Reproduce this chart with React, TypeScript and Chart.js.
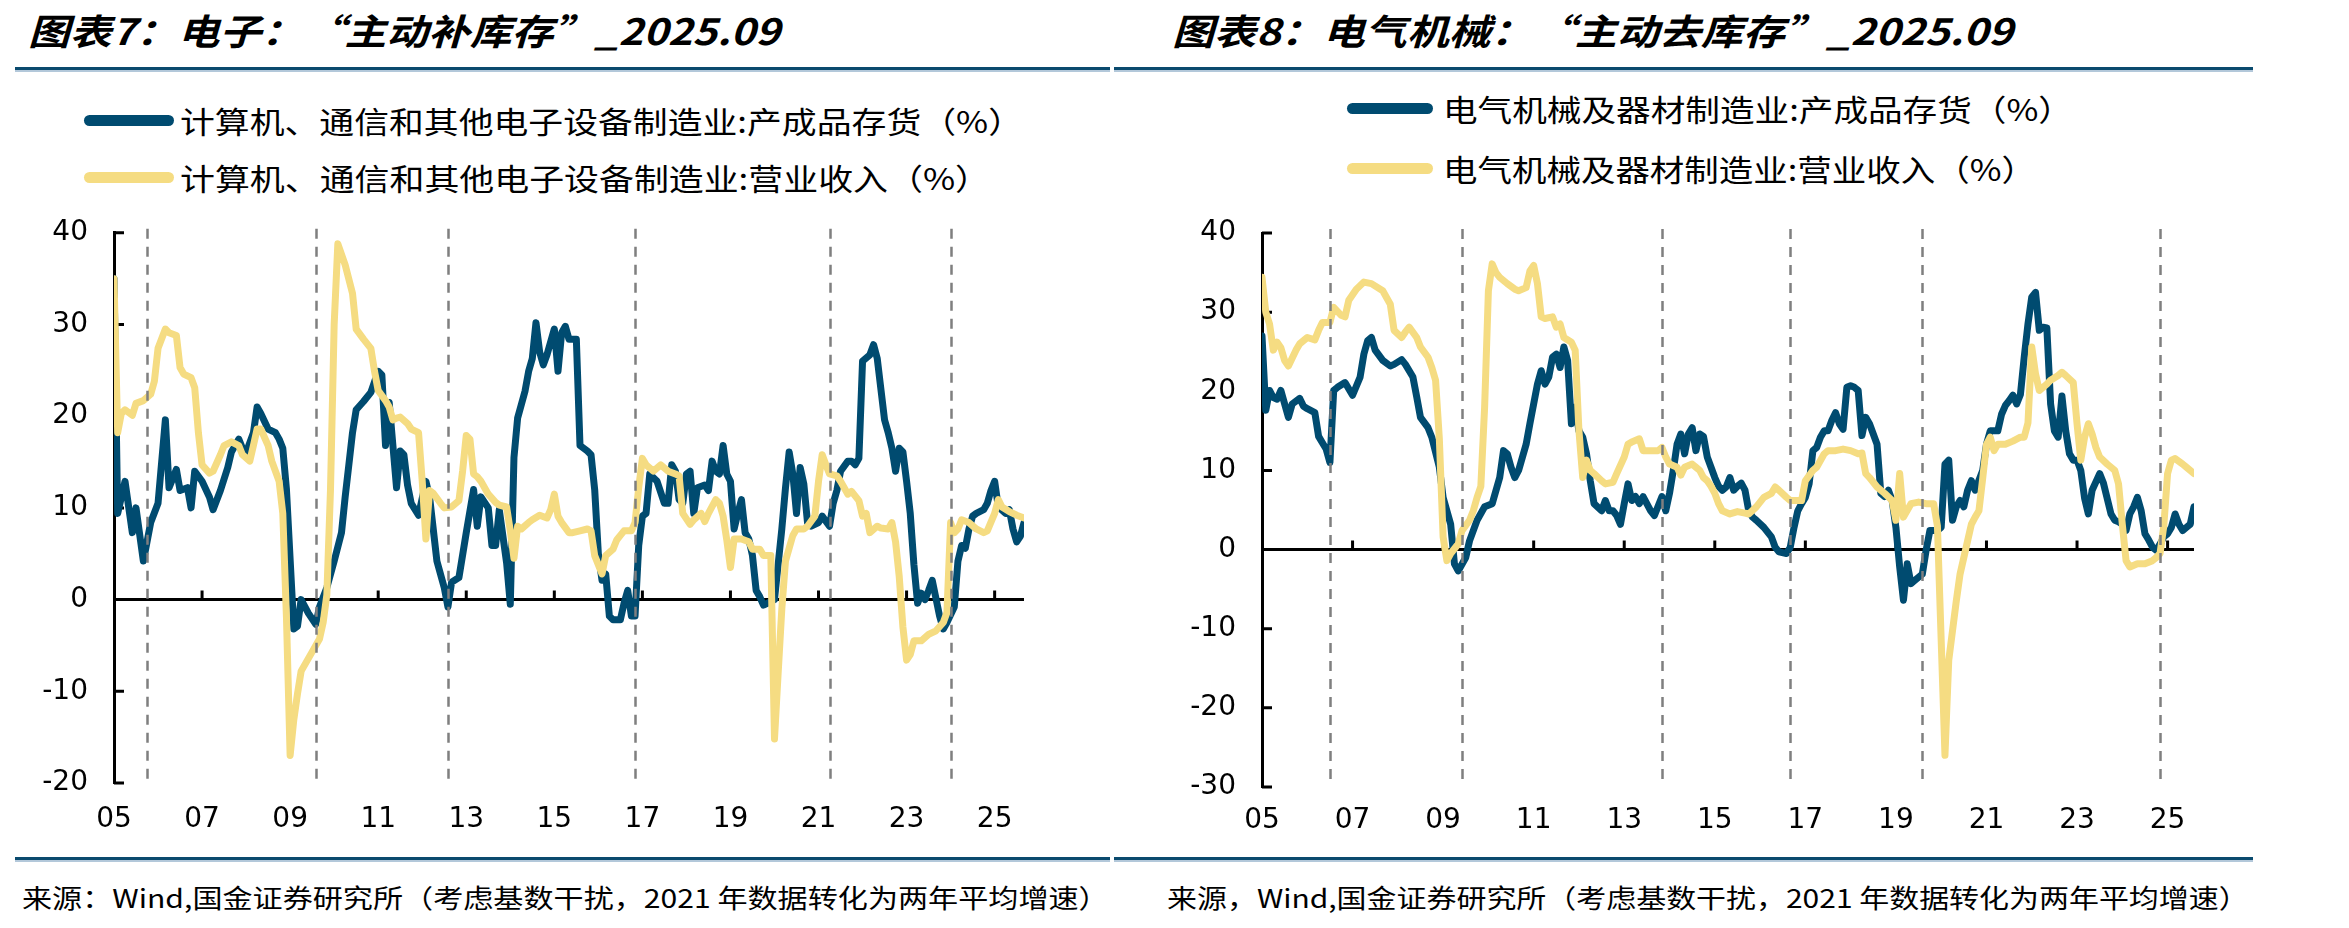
import React, { useEffect, useLayoutEffect, useRef, useState } from "react";
import { Chart, registerables } from "chart.js";

Chart.register(...registerables);

// ---------- data ----------
// Computer, communication & other electronic equipment manufacturing (% y/y)
const elecInventory: [string, number][] = [
  ["2005-01", 35.0], ["2005-02", 9.4], ["2005-04", 12.9], ["2005-05", 10.1], ["2005-06", 7.3], ["2005-07", 10.0], ["2005-09", 4.2], ["2005-11", 8.4],
  ["2006-01", 10.5], ["2006-03", 19.6], ["2006-04", 12.2], ["2006-06", 14.2], ["2006-07", 11.9], ["2006-09", 12.2], ["2006-10", 10.0], ["2006-11", 14.0],
  ["2007-01", 12.9], ["2007-03", 11.2], ["2007-04", 9.8], ["2007-06", 11.9], ["2007-08", 14.4], ["2007-09", 16.1], ["2007-11", 17.5], ["2007-12", 16.5],
  ["2008-01", 16.0], ["2008-03", 18.2], ["2008-04", 21.0], ["2008-05", 20.3], ["2008-07", 18.6], ["2008-09", 18.2], ["2008-10", 17.5], ["2008-11", 16.5], ["2008-12", 12.0],
  ["2009-02", -3.2], ["2009-03", -2.9], ["2009-04", 0.0], ["2009-06", -1.5], ["2009-08", -2.7], ["2009-09", -0.8], ["2009-11", 1.3],
  ["2010-01", 4.2], ["2010-03", 7.3], ["2010-04", 11.2], ["2010-05", 14.7], ["2010-06", 18.2], ["2010-07", 20.7], ["2010-09", 21.6], ["2010-11", 22.6],
  ["2011-01", 24.9], ["2011-02", 24.5], ["2011-03", 16.8], ["2011-04", 21.5], ["2011-06", 12.2], ["2011-07", 16.2], ["2011-08", 15.8], ["2011-09", 12.5], ["2011-10", 10.5], ["2011-12", 9.2],
  ["2012-02", 12.9], ["2012-03", 11.2], ["2012-04", 7.7], ["2012-05", 4.2], ["2012-07", 1.3], ["2012-08", -0.8], ["2012-09", 1.9], ["2012-11", 2.4],
  ["2013-01", 7.3], ["2013-03", 12.0], ["2013-04", 8.0], ["2013-05", 11.2], ["2013-07", 10.0], ["2013-08", 5.9], ["2013-09", 5.9], ["2013-10", 9.8], ["2013-12", 4.0],
  ["2014-01", -0.5], ["2014-02", 15.5], ["2014-03", 19.8], ["2014-05", 22.7], ["2014-06", 24.9], ["2014-07", 26.3], ["2014-08", 30.2], ["2014-09", 27.0], ["2014-10", 25.6], ["2014-11", 26.7],
  ["2015-01", 29.5], ["2015-02", 24.9], ["2015-03", 29.1], ["2015-04", 29.8], ["2015-05", 28.4], ["2015-07", 28.4], ["2015-08", 16.8], ["2015-10", 16.2], ["2015-11", 15.8], ["2015-12", 12.0],
  ["2016-01", 5.0], ["2016-02", 2.1], ["2016-03", 2.8], ["2016-04", -1.8], ["2016-05", -2.2], ["2016-07", -2.2], ["2016-08", -0.4], ["2016-09", 1.0], ["2016-10", -1.8], ["2016-11", -1.8], ["2016-12", 5.9],
  ["2017-01", 9.1], ["2017-02", 9.4], ["2017-03", 13.7], ["2017-04", 13.3], ["2017-05", 12.9], ["2017-07", 10.5], ["2017-08", 10.5], ["2017-09", 14.7], ["2017-10", 14.0], ["2017-11", 10.9], ["2017-12", 10.5],
  ["2018-01", 13.7], ["2018-02", 14.0], ["2018-03", 9.4], ["2018-04", 12.2], ["2018-06", 12.5], ["2018-07", 11.9], ["2018-08", 15.1], ["2018-09", 14.0], ["2018-10", 13.7], ["2018-11", 16.8], ["2018-12", 13.7],
  ["2019-01", 12.9], ["2019-02", 7.7], ["2019-03", 9.4], ["2019-04", 10.9], ["2019-05", 7.3], ["2019-06", 6.6], ["2019-07", 4.8], ["2019-08", 1.0], ["2019-09", 0.3], ["2019-10", -0.6], ["2019-11", -0.4],
  ["2020-01", 0.0], ["2020-03", 7.7], ["2020-04", 12.2], ["2020-05", 16.1], ["2020-06", 13.7], ["2020-07", 9.4], ["2020-08", 14.4], ["2020-09", 12.6], ["2020-10", 8.4], ["2020-11", 8.0],
  ["2021-01", 8.4], ["2021-02", 9.1], ["2021-04", 8.0], ["2021-05", 10.5], ["2021-06", 11.9], ["2021-07", 14.0], ["2021-09", 15.1], ["2021-10", 15.1], ["2021-11", 14.7], ["2021-12", 15.4],
  ["2022-01", 26.0], ["2022-03", 26.7], ["2022-04", 27.8], ["2022-05", 26.3], ["2022-07", 19.6], ["2022-08", 18.2], ["2022-09", 16.5], ["2022-10", 14.0], ["2022-11", 16.5], ["2022-12", 16.1],
  ["2023-01", 12.9], ["2023-02", 9.4], ["2023-03", 3.8], ["2023-04", -0.4], ["2023-05", 0.7], ["2023-06", 0.0], ["2023-07", 1.0], ["2023-08", 2.1], ["2023-10", -1.8], ["2023-11", -3.2], ["2023-12", -2.5],
  ["2024-02", -0.8], ["2024-03", 4.2], ["2024-04", 5.9], ["2024-05", 5.6], ["2024-06", 7.7], ["2024-07", 9.1], ["2024-08", 9.4], ["2024-10", 9.8], ["2024-11", 10.5], ["2024-12", 11.9],
  ["2025-01", 12.9], ["2025-02", 10.1], ["2025-04", 9.4], ["2025-05", 9.8], ["2025-06", 7.7], ["2025-07", 6.3], ["2025-08", 6.9], ["2025-09", 8.4],
];

const elecRevenue: [string, number][] = [
  ["2005-01", 35.0], ["2005-02", 18.2], ["2005-03", 20.3], ["2005-04", 20.7], ["2005-06", 20.1], ["2005-07", 21.4], ["2005-09", 21.7], ["2005-11", 22.4], ["2005-12", 23.8],
  ["2006-01", 27.4], ["2006-03", 29.5], ["2006-04", 29.1], ["2006-06", 28.8], ["2006-07", 25.3], ["2006-08", 24.6], ["2006-10", 24.2], ["2006-11", 23.1], ["2006-12", 18.2],
  ["2007-01", 14.7], ["2007-03", 13.8], ["2007-04", 14.0], ["2007-06", 15.8], ["2007-07", 16.8], ["2007-09", 17.2], ["2007-11", 16.8], ["2007-12", 15.8],
  ["2008-02", 15.1], ["2008-03", 16.8], ["2008-04", 18.6], ["2008-05", 18.6], ["2008-07", 16.8], ["2008-08", 15.1], ["2008-10", 12.9], ["2008-11", 9.4], ["2008-12", -2.0],
  ["2009-01", -17.0], ["2009-02", -13.1], ["2009-03", -10.3], ["2009-04", -7.8], ["2009-07", -5.7], ["2009-09", -4.3], ["2009-10", -2.5], ["2009-11", 0.5], ["2009-12", 12.0],
  ["2010-01", 30.0], ["2010-02", 38.8], ["2010-04", 36.5], ["2010-06", 33.4], ["2010-07", 29.5], ["2010-09", 28.4], ["2010-11", 27.4], ["2010-12", 24.9],
  ["2011-01", 22.8], ["2011-03", 21.7], ["2011-04", 21.0], ["2011-05", 19.6], ["2011-06", 19.8], ["2011-07", 19.9], ["2011-09", 19.2], ["2011-10", 18.6], ["2011-12", 18.2],
  ["2012-01", 12.9], ["2012-02", 6.6], ["2012-03", 11.9], ["2012-04", 11.6], ["2012-06", 10.5], ["2012-07", 10.0], ["2012-09", 10.1], ["2012-11", 10.8], ["2012-12", 14.0],
  ["2013-01", 17.9], ["2013-02", 17.5], ["2013-03", 13.7], ["2013-04", 13.4], ["2013-05", 12.9], ["2013-07", 11.5], ["2013-09", 10.6], ["2013-10", 10.3], ["2013-12", 10.1],
  ["2014-01", 7.5], ["2014-02", 4.5], ["2014-03", 8.0], ["2014-04", 7.7], ["2014-06", 8.4], ["2014-07", 8.7], ["2014-09", 9.2], ["2014-11", 8.9], ["2014-12", 9.8],
  ["2015-01", 11.5], ["2015-02", 9.1], ["2015-03", 8.4], ["2015-05", 7.3], ["2015-06", 7.3], ["2015-08", 7.5], ["2015-10", 7.7], ["2015-11", 7.5], ["2015-12", 4.8],
  ["2016-02", 2.8], ["2016-03", 4.8], ["2016-05", 5.5], ["2016-06", 6.5], ["2016-07", 7.0], ["2016-08", 7.5], ["2016-10", 7.5], ["2016-11", 8.4], ["2016-12", 12.2],
  ["2017-01", 15.4], ["2017-02", 14.7], ["2017-04", 14.0], ["2017-06", 14.7], ["2017-08", 14.0], ["2017-10", 13.7], ["2017-11", 13.5], ["2017-12", 9.4],
  ["2018-02", 8.2], ["2018-03", 8.7], ["2018-05", 9.4], ["2018-06", 8.5], ["2018-07", 9.4], ["2018-09", 10.9], ["2018-10", 10.5], ["2018-11", 9.1], ["2018-12", 6.5],
  ["2019-01", 3.5], ["2019-02", 6.6], ["2019-04", 6.6], ["2019-06", 6.3], ["2019-07", 5.5], ["2019-09", 5.5], ["2019-10", 4.8], ["2019-12", 4.8],
  ["2020-01", -15.2], ["2020-02", -8.0], ["2020-03", -1.0], ["2020-04", 4.2], ["2020-06", 7.0], ["2020-07", 7.7], ["2020-09", 7.7], ["2020-10", 8.0], ["2020-12", 9.1],
  ["2021-01", 12.9], ["2021-02", 15.8], ["2021-03", 14.7], ["2021-04", 13.7], ["2021-06", 13.5], ["2021-07", 12.9], ["2021-08", 12.2], ["2021-09", 11.5], ["2021-10", 11.8], ["2021-12", 10.8],
  ["2022-01", 9.1], ["2022-02", 9.4], ["2022-03", 7.3], ["2022-05", 8.0], ["2022-06", 7.8], ["2022-08", 7.7], ["2022-09", 8.4], ["2022-10", 6.3], ["2022-11", 2.5], ["2022-12", -3.0],
  ["2023-01", -6.6], ["2023-02", -6.0], ["2023-03", -4.5], ["2023-05", -4.5], ["2023-07", -3.8], ["2023-09", -3.4], ["2023-11", -2.5], ["2023-12", -1.4],
  ["2024-01", 8.4], ["2024-02", 7.3], ["2024-03", 7.7], ["2024-04", 8.7], ["2024-06", 8.4], ["2024-08", 7.7], ["2024-10", 7.3], ["2024-11", 7.5],
  ["2025-01", 9.4], ["2025-02", 10.9], ["2025-03", 10.1], ["2025-05", 9.6], ["2025-07", 9.2], ["2025-09", 8.9],
];

// Electrical machinery & equipment manufacturing (% y/y)
const machInventory: [string, number][] = [
  ["2005-01", 27.0], ["2005-02", 17.6], ["2005-03", 20.1], ["2005-04", 19.2], ["2005-05", 19.0], ["2005-06", 20.1], ["2005-08", 16.7], ["2005-09", 18.4], ["2005-11", 19.1], ["2005-12", 18.1],
  ["2006-01", 17.8], ["2006-03", 17.3], ["2006-04", 14.3], ["2006-05", 13.5], ["2006-06", 12.7], ["2006-07", 11.0], ["2006-08", 20.1], ["2006-09", 20.5], ["2006-11", 21.1],
  ["2007-01", 19.5], ["2007-03", 21.8], ["2007-04", 24.7], ["2007-05", 26.4], ["2007-06", 26.8], ["2007-07", 25.2], ["2007-09", 23.9], ["2007-11", 23.2], ["2007-12", 23.4],
  ["2008-02", 24.0], ["2008-03", 23.4], ["2008-05", 21.8], ["2008-06", 19.3], ["2008-07", 16.7], ["2008-09", 15.4], ["2008-10", 14.2], ["2008-12", 10.4],
  ["2009-01", 6.6], ["2009-03", 3.2], ["2009-04", -1.8], ["2009-05", -2.7], ["2009-07", -1.0], ["2009-08", 1.1], ["2009-10", 3.7], ["2009-12", 5.4],
  ["2010-02", 5.8], ["2010-04", 9.1], ["2010-05", 12.5], ["2010-06", 12.1], ["2010-07", 10.4], ["2010-08", 9.1], ["2010-09", 10.0], ["2010-11", 13.3], ["2010-12", 15.9],
  ["2011-02", 20.9], ["2011-03", 22.6], ["2011-04", 20.9], ["2011-05", 21.8], ["2011-06", 24.3], ["2011-07", 24.7], ["2011-08", 23.0], ["2011-09", 25.6], ["2011-10", 23.9], ["2011-11", 15.9], ["2011-12", 18.0],
  ["2012-01", 15.0], ["2012-02", 14.2], ["2012-03", 12.1], ["2012-04", 8.7], ["2012-05", 5.8], ["2012-07", 4.9], ["2012-08", 6.2], ["2012-09", 4.9], ["2012-10", 4.9], ["2012-11", 4.3], ["2012-12", 3.2],
  ["2013-01", 5.8], ["2013-02", 8.3], ["2013-03", 6.2], ["2013-04", 6.7], ["2013-05", 5.8], ["2013-06", 6.7], ["2013-08", 4.9], ["2013-09", 4.3], ["2013-10", 5.5], ["2013-11", 6.7], ["2013-12", 4.9],
  ["2014-01", 7.1], ["2014-02", 10.0], ["2014-03", 13.3], ["2014-04", 14.6], ["2014-05", 12.1], ["2014-06", 14.6], ["2014-07", 15.4], ["2014-08", 12.5], ["2014-09", 14.6], ["2014-10", 14.3], ["2014-11", 11.7], ["2014-12", 10.4],
  ["2015-01", 9.1], ["2015-02", 8.0], ["2015-03", 7.5], ["2015-04", 7.9], ["2015-05", 9.1], ["2015-06", 7.5], ["2015-07", 8.0], ["2015-08", 8.4], ["2015-09", 7.5], ["2015-10", 4.9], ["2015-11", 4.1], ["2015-12", 3.7],
  ["2016-02", 2.8], ["2016-04", 1.6], ["2016-05", 0.3], ["2016-06", -0.3], ["2016-08", -0.5], ["2016-09", 0.3], ["2016-10", 2.8], ["2016-11", 4.9], ["2016-12", 5.8],
  ["2017-01", 6.6], ["2017-02", 8.3], ["2017-03", 12.5], ["2017-04", 12.9], ["2017-05", 14.2], ["2017-06", 15.0], ["2017-07", 15.0], ["2017-08", 16.3], ["2017-09", 17.3], ["2017-10", 15.9], ["2017-11", 15.2], ["2017-12", 20.5],
  ["2018-01", 20.7], ["2018-02", 20.5], ["2018-03", 20.1], ["2018-04", 14.4], ["2018-05", 16.7], ["2018-06", 15.9], ["2018-07", 14.6], ["2018-08", 13.3], ["2018-09", 7.1], ["2018-10", 6.7], ["2018-11", 7.5], ["2018-12", 6.2],
  ["2019-01", 2.8], ["2019-02", -2.2], ["2019-03", -6.4], ["2019-04", -1.8], ["2019-05", -4.3], ["2019-06", -3.9], ["2019-08", -3.1], ["2019-09", -0.1], ["2019-10", 2.4], ["2019-12", 2.4],
  ["2020-01", 2.8], ["2020-02", 10.8], ["2020-03", 11.3], ["2020-04", 3.7], ["2020-05", 5.4], ["2020-06", 6.2], ["2020-07", 5.4], ["2020-08", 7.5], ["2020-09", 8.7], ["2020-10", 7.5], ["2020-12", 10.0],
  ["2021-01", 13.3], ["2021-02", 15.0], ["2021-04", 15.0], ["2021-05", 17.1], ["2021-06", 18.2], ["2021-07", 18.8], ["2021-08", 19.5], ["2021-09", 18.4], ["2021-10", 19.6], ["2021-11", 24.3], ["2021-12", 28.5],
  ["2022-01", 31.9], ["2022-02", 32.5], ["2022-03", 27.7], ["2022-04", 28.1], ["2022-05", 28.0], ["2022-06", 18.4], ["2022-07", 15.0], ["2022-08", 14.2], ["2022-09", 19.4], ["2022-10", 15.0], ["2022-11", 12.1], ["2022-12", 11.3],
  ["2023-01", 11.3], ["2023-02", 10.0], ["2023-03", 6.5], ["2023-04", 4.5], ["2023-05", 7.5], ["2023-07", 9.6], ["2023-08", 8.4], ["2023-10", 4.5], ["2023-11", 3.7], ["2023-12", 3.5],
  ["2024-01", 3.2], ["2024-02", 2.4], ["2024-03", 4.5], ["2024-04", 5.4], ["2024-05", 6.6], ["2024-06", 4.9], ["2024-07", 2.0], ["2024-08", 1.2], ["2024-09", 0.3], ["2024-10", -0.1], ["2024-11", 0.7], ["2024-12", 1.6],
  ["2025-01", 2.0], ["2025-02", 2.8], ["2025-03", 4.5], ["2025-04", 3.2], ["2025-05", 2.4], ["2025-06", 2.8], ["2025-07", 3.2], ["2025-08", 5.4],
];

const machRevenue: [string, number][] = [
  ["2005-01", 34.4], ["2005-02", 30.0], ["2005-03", 28.5], ["2005-04", 25.2], ["2005-05", 26.2], ["2005-06", 25.5], ["2005-07", 23.9], ["2005-08", 23.2], ["2005-10", 25.2], ["2005-11", 26.0],
  ["2006-01", 26.8], ["2006-03", 26.5], ["2006-04", 27.7], ["2006-05", 28.7], ["2006-07", 28.7], ["2006-08", 30.6], ["2006-10", 29.6], ["2006-11", 29.4], ["2006-12", 31.5],
  ["2007-02", 32.9], ["2007-04", 33.8], ["2007-06", 33.6], ["2007-09", 32.7], ["2007-11", 31.0], ["2007-12", 27.7],
  ["2008-02", 26.8], ["2008-03", 27.5], ["2008-04", 28.1], ["2008-06", 26.8], ["2008-07", 25.6], ["2008-09", 24.3], ["2008-10", 23.0], ["2008-11", 21.4], ["2008-12", 14.0],
  ["2009-01", 1.6], ["2009-02", -1.4], ["2009-03", -0.5], ["2009-05", 0.7], ["2009-06", 2.4], ["2009-08", 3.7], ["2009-09", 4.9], ["2009-10", 6.6], ["2009-11", 8.0], ["2009-12", 18.0],
  ["2010-01", 32.7], ["2010-02", 36.1], ["2010-03", 35.0], ["2010-04", 34.4], ["2010-06", 33.6], ["2010-08", 32.9], ["2010-09", 32.7], ["2010-11", 33.1], ["2010-12", 35.2],
  ["2011-01", 35.9], ["2011-02", 33.6], ["2011-03", 29.4], ["2011-04", 29.2], ["2011-06", 29.4], ["2011-07", 28.1], ["2011-08", 28.5], ["2011-09", 26.8], ["2011-11", 26.2], ["2011-12", 25.2],
  ["2012-01", 15.0], ["2012-02", 9.1], ["2012-03", 11.3], ["2012-04", 10.0], ["2012-05", 9.6], ["2012-07", 8.7], ["2012-08", 8.3], ["2012-10", 8.5], ["2012-11", 9.6],
  ["2013-01", 11.7], ["2013-02", 13.3], ["2013-03", 13.6], ["2013-05", 14.0], ["2013-06", 12.5], ["2013-08", 12.5], ["2013-10", 12.5], ["2013-11", 12.9], ["2013-12", 11.7],
  ["2014-01", 10.8], ["2014-03", 10.4], ["2014-04", 9.4], ["2014-05", 10.4], ["2014-07", 10.8], ["2014-08", 10.4], ["2014-09", 10.0], ["2014-10", 9.1], ["2014-11", 8.7], ["2014-12", 8.0],
  ["2015-01", 7.1], ["2015-02", 5.8], ["2015-03", 4.9], ["2015-05", 4.5], ["2015-07", 4.8], ["2015-09", 4.6], ["2015-10", 4.5], ["2015-12", 5.4],
  ["2016-02", 6.6], ["2016-04", 7.1], ["2016-05", 7.9], ["2016-06", 7.5], ["2016-08", 6.6], ["2016-09", 6.2], ["2016-12", 6.2],
  ["2017-01", 8.7], ["2017-03", 10.0], ["2017-04", 10.4], ["2017-06", 12.1], ["2017-07", 12.5], ["2017-09", 12.5], ["2017-11", 12.7],
  ["2018-01", 12.5], ["2018-03", 12.1], ["2018-04", 12.2], ["2018-05", 9.6], ["2018-06", 9.1], ["2018-08", 7.9], ["2018-10", 7.1], ["2018-12", 6.2],
  ["2019-01", 3.7], ["2019-02", 9.6], ["2019-03", 4.1], ["2019-05", 5.8], ["2019-07", 6.0], ["2019-09", 5.8], ["2019-11", 5.8], ["2019-12", 3.0],
  ["2020-02", -26.0], ["2020-03", -14.0], ["2020-05", -6.5], ["2020-06", -3.1], ["2020-08", 1.1], ["2020-09", 3.2], ["2020-10", 4.1], ["2020-11", 4.9], ["2020-12", 9.0],
  ["2021-01", 13.3], ["2021-02", 14.2], ["2021-03", 12.5], ["2021-04", 13.3], ["2021-06", 13.3], ["2021-08", 13.7], ["2021-10", 14.2], ["2021-11", 14.2], ["2021-12", 16.0],
  ["2022-01", 25.6], ["2022-02", 22.2], ["2022-03", 20.1], ["2022-05", 20.9], ["2022-06", 21.4], ["2022-08", 22.0], ["2022-09", 22.4], ["2022-10", 22.0], ["2022-12", 21.1],
  ["2023-01", 15.9], ["2023-02", 11.3], ["2023-03", 14.2], ["2023-04", 15.9], ["2023-05", 14.6], ["2023-06", 12.9], ["2023-07", 11.7], ["2023-09", 10.8], ["2023-11", 10.0], ["2023-12", 8.3],
  ["2024-01", 3.2], ["2024-02", -1.4], ["2024-03", -2.2], ["2024-05", -1.8], ["2024-07", -1.8], ["2024-09", -1.4], ["2024-10", -1.0], ["2024-11", -0.5], ["2024-12", 3.0],
  ["2025-01", 9.6], ["2025-02", 11.3], ["2025-03", 11.5], ["2025-05", 10.8], ["2025-06", 10.4], ["2025-08", 9.6],
];

// Months marked with a dashed vertical line (inventory-cycle turning points)
const elecTurns = ["2005-10", "2009-08", "2012-08", "2016-11", "2021-04", "2024-01"];
const machTurns = ["2006-07", "2009-06", "2013-11", "2016-09", "2019-08", "2024-11"];

const yearTicks = ["05", "07", "09", "11", "13", "15", "17", "19", "21", "23", "25"];
const elecYTicks = [-20, -10, 0, 10, 20, 30, 40];
const machYTicks = [-30, -20, -10, 0, 10, 20, 30, 40];

const elecTitle = "图表7：电子：“主动补库存”_2025.09";
const machTitle = "图表8：电气机械：“主动去库存”_2025.09";
const elecLegend = ["计算机、通信和其他电子设备制造业:产成品存货（%）", "计算机、通信和其他电子设备制造业:营业收入（%）"];
const machLegend = ["电气机械及器材制造业:产成品存货（%）", "电气机械及器材制造业:营业收入（%）"];
const elecSource = "来源：Wind,国金证券研究所（考虑基数干扰，2021 年数据转化为两年平均增速）";
const machSource = "来源，Wind,国金证券研究所（考虑基数干扰，2021 年数据转化为两年平均增速）";

// ---------- styling ----------
const NAVY = "#004b70";
const GOLD = "#f5dc82";
const RULE = "#0a4a6e";
const RULE_LIGHT = "#b3c8da";
const CJK = '"Noto Sans CJK SC", sans-serif';
const NUM = '"DejaVu Sans", "Liberation Sans", Arial, sans-serif';

const monthIndex = (d: string) => {
  const [y, m] = d.split("-").map(Number);
  return (y - 2005) * 12 + (m - 1);
};
const toPoints = (s: [string, number][]) => s.map(([d, v]) => ({ x: monthIndex(d), y: v }));

// Zero line with upward year ticks, plus inward ticks on the value axis
const axisDecor = {
  id: "axisDecor",
  beforeDatasetsDraw(chart: any) {
    const { ctx, chartArea, scales } = chart;
    const xs = scales.x;
    const ys = scales.y;
    const y0 = ys.getPixelForValue(0);
    ctx.save();
    ctx.strokeStyle = "#000";
    ctx.lineWidth = 3;
    ctx.beginPath();
    ctx.moveTo(chartArea.left, y0);
    ctx.lineTo(chartArea.right, y0);
    xs.ticks.forEach((t: any, i: number) => {
      if (i === 0) return;
      const px = xs.getPixelForValue(t.value);
      ctx.moveTo(px, y0);
      ctx.lineTo(px, y0 - 9);
    });
    ys.ticks.forEach((t: any) => {
      const py = ys.getPixelForValue(t.value);
      ctx.moveTo(chartArea.left, py);
      ctx.lineTo(chartArea.left + 10, py);
    });
    ctx.stroke();
    ctx.restore();
  },
};

const turnLines = (dates: string[]) => ({
  id: "turnLines",
  afterDatasetsDraw(chart: any) {
    const { ctx, chartArea, scales } = chart;
    ctx.save();
    ctx.strokeStyle = "#7f7f7f";
    ctx.lineWidth = 2.5;
    ctx.setLineDash([10, 8]);
    dates.forEach((d) => {
      const px = Math.round(scales.x.getPixelForValue(monthIndex(d))) + 0.5;
      ctx.beginPath();
      ctx.moveTo(px, chartArea.top - 4);
      ctx.lineTo(px, chartArea.bottom - 4);
      ctx.stroke();
    });
    ctx.restore();
  },
});

type PanelProps = {
  left: number;
  top: number;
  width: number;
  height: number;
  inventory: [string, number][];
  revenue: [string, number][];
  turns: string[];
  yTicks: number[];
  xMax: number;
  area: { left: number; top: number; right: number; bottom: number };
  labelPad: number;
};

function Panel(p: PanelProps) {
  const ref = useRef<HTMLCanvasElement>(null);
  useEffect(() => {
    if (!ref.current) return;
    const chart = new Chart(ref.current, {
      type: "line",
      data: {
        datasets: [
          {
            data: toPoints(p.inventory),
            borderColor: NAVY,
            borderWidth: 7,
            order: 1,
          },
          {
            data: toPoints(p.revenue),
            borderColor: GOLD,
            borderWidth: 7,
            order: 0,
          },
        ],
      },
      options: {
        animation: false,
        responsive: false,
        maintainAspectRatio: false,
        layout: { padding: { left: 0, top: p.area.top, right: p.width - p.area.right, bottom: 0 } },
        plugins: { legend: { display: false }, tooltip: { enabled: false } },
        elements: {
          point: { radius: 0 },
          line: { tension: 0, borderJoinStyle: "round", borderCapStyle: "round" },
        },
        scales: {
          x: {
            type: "linear",
            min: 0,
            max: p.xMax,
            grid: { display: false, drawTicks: false },
            border: { display: false },
            afterBuildTicks: (s: any) => {
              s.ticks = yearTicks.map((_, i) => ({ value: i * 24 }));
            },
            ticks: {
              autoSkip: false,
              maxRotation: 0,
              color: "#000",
              padding: p.labelPad,
              font: { family: NUM, size: 28 },
              callback: (_v: any, i: number) => yearTicks[i],
            },
            afterFit: (s: any) => {
              s.height = p.height - p.area.bottom;
            },
          },
          y: {
            type: "linear",
            min: p.yTicks[0],
            max: p.yTicks[p.yTicks.length - 1],
            grid: { display: false, drawTicks: false },
            border: { display: true, color: "#000", width: 3 },
            afterBuildTicks: (s: any) => {
              s.ticks = p.yTicks.map((v) => ({ value: v }));
            },
            ticks: {
              color: "#000",
              padding: 26,
              font: { family: NUM, size: 28 },
            },
            afterFit: (s: any) => {
              s.width = p.area.left;
            },
          },
        },
      } as any,
      plugins: [axisDecor, turnLines(p.turns)],
    });
    return () => chart.destroy();
  }, []);
  return (
    <canvas
      ref={ref}
      width={p.width}
      height={p.height}
      style={{ position: "absolute", left: p.left, top: p.top, width: p.width, height: p.height }}
    />
  );
}

type TextProps = {
  text: string;
  x: number;
  cy: number;
  width: number;
  size: number;
  weight?: number;
  italic?: boolean;
};

// Text stretched horizontally so it spans a given width
function FitText({ text, x, cy, width, size, weight = 400, italic = false }: TextProps) {
  const ref = useRef<HTMLSpanElement>(null);
  const [scale, setScale] = useState(1);
  useLayoutEffect(() => {
    const measure = () => {
      if (ref.current && ref.current.offsetWidth > 0) setScale(width / ref.current.offsetWidth);
    };
    measure();
    (document as any).fonts?.ready?.then(measure);
  }, [text, width, size]);
  return (
    <span
      ref={ref}
      style={{
        position: "absolute",
        left: x,
        top: cy - size / 2,
        fontFamily: CJK,
        fontSize: size,
        lineHeight: `${size}px`,
        fontWeight: weight,
        fontStyle: italic ? "italic" : "normal",
        whiteSpace: "nowrap",
        color: "#000",
        transform: `scaleX(${scale})`,
        transformOrigin: "left center",
      }}
    >
      {text}
    </span>
  );
}

function Rule({ x1, x2, y }: { x1: number; x2: number; y: number }) {
  return (
    <>
      <div style={{ position: "absolute", left: x1, top: y, width: x2 - x1, height: 3, background: RULE }} />
      <div style={{ position: "absolute", left: x1, top: y + 3, width: x2 - x1, height: 1.5, background: RULE_LIGHT }} />
    </>
  );
}

function LegendKey({ x1, x2, cy, color }: { x1: number; x2: number; cy: number; color: string }) {
  return (
    <div
      style={{
        position: "absolute",
        left: x1,
        top: cy - 5.5,
        width: x2 - x1,
        height: 11,
        borderRadius: 5.5,
        background: color,
      }}
    />
  );
}

export default function App() {
  return (
    <div
      style={{
        position: "absolute",
        left: 0,
        top: 0,
        width: 2349,
        height: 928,
        background: "#fff",
        overflow: "hidden",
      }}
    >
      <FitText text={elecTitle} x={28} cy={29} width={752} size={36} weight={700} italic />
      <FitText text={machTitle} x={1172} cy={29} width={841} size={36} weight={700} italic />

      <Rule x1={15} x2={1110} y={67} />
      <Rule x1={1114} x2={2253} y={67} />

      <LegendKey x1={84} x2={174} cy={120} color={NAVY} />
      <FitText text={elecLegend[0]} x={180} cy={120} width={843} size={30} />
      <LegendKey x1={84} x2={174} cy={177} color={GOLD} />
      <FitText text={elecLegend[1]} x={180} cy={177} width={810} size={30} />

      <LegendKey x1={1347} x2={1433} cy={108} color={NAVY} />
      <FitText text={machLegend[0]} x={1443} cy={108} width={630} size={30} />
      <LegendKey x1={1347} x2={1433} cy={168} color={GOLD} />
      <FitText text={machLegend[1]} x={1443} cy={168} width={593} size={30} />

      <Panel
        left={0}
        top={190}
        width={1100}
        height={680}
        inventory={elecInventory}
        revenue={elecRevenue}
        turns={elecTurns}
        yTicks={elecYTicks}
        xMax={248}
        area={{ left: 114, top: 25, right: 1024, bottom: 593 }}
        labelPad={20}
      />
      <Panel
        left={1175}
        top={190}
        width={1100}
        height={680}
        inventory={machInventory}
        revenue={machRevenue}
        turns={machTurns}
        yTicks={machYTicks}
        xMax={247}
        area={{ left: 87, top: 43, right: 1019, bottom: 597 }}
        labelPad={17}
      />

      <Rule x1={15} x2={1110} y={857} />
      <Rule x1={1114} x2={2253} y={857} />

      <FitText text={elecSource} x={22} cy={897} width={1087} size={26} />
      <FitText text={machSource} x={1167} cy={897} width={1082} size={26} />
    </div>
  );
}
